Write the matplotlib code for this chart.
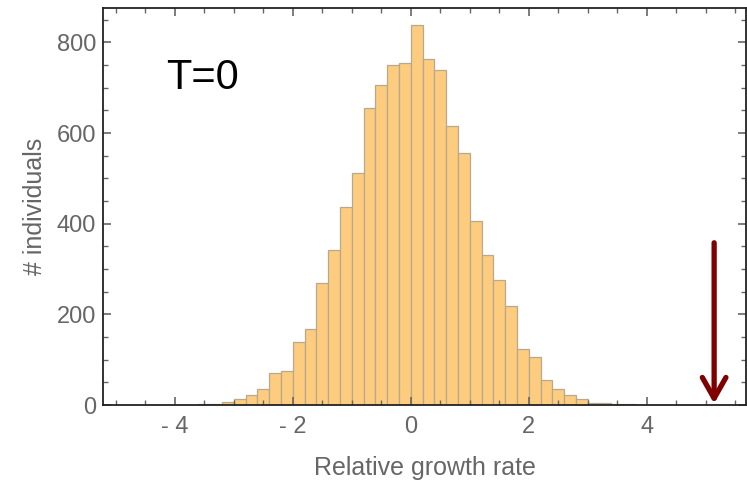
import matplotlib.pyplot as plt
from matplotlib.patches import FancyArrowPatch
from matplotlib.ticker import MultipleLocator
import numpy as np

plt.rcParams['font.family'] = ['Liberation Sans', 'DejaVu Sans']

# histogram bins (left edges, width 0.2) and counts
bin_left = [-3.6, -3.4, -3.2, -3.0, -2.8, -2.6, -2.4, -2.2, -2.0, -1.8,
            -1.6, -1.4, -1.2, -1.0, -0.8, -0.6, -0.4, -0.2, 0.0, 0.2,
            0.4, 0.6, 0.8, 1.0, 1.2, 1.4, 1.6, 1.8, 2.0, 2.2,
            2.4, 2.6, 2.8, 3.0, 3.2, 3.4, 3.6, 5.2]
counts = [2, 3, 6, 13, 22, 36, 70, 74, 138, 168,
          270, 341, 436, 513, 656, 706, 750, 755, 838, 764,
          740, 615, 555, 406, 330, 276, 219, 124, 105, 55,
          36, 22, 14, 5, 5, 3, 2, 1]
bin_width = 0.2

x_ticks = [-4, -2, 0, 2, 4]
x_ticklabels = ['- 4', '- 2', '0', '2', '4']
y_ticks = [0, 200, 400, 600, 800]

marker_x = 5.14
marker_top = 358

gray = '#666666'

fig = plt.figure(figsize=(7.47, 4.86), dpi=100)
ax = fig.add_axes([103 / 747, 1 - 405 / 486, (746 - 103) / 747, (405 - 8) / 486])

ax.bar(bin_left, counts, width=bin_width, align='edge',
       facecolor='#fdcc7e', edgecolor='#b8a88e', linewidth=0.9)

ax.set_xlim(-5.215, 5.68)
ax.set_ylim(0, 876)

ax.set_xticks(x_ticks)
ax.set_xticklabels(x_ticklabels)
ax.set_yticks(y_ticks)
ax.xaxis.set_minor_locator(MultipleLocator(0.5))
ax.yaxis.set_minor_locator(MultipleLocator(50))

ax.tick_params(which='both', direction='in', top=True, right=True,
               color=gray, labelcolor=gray, labelsize=17)
ax.tick_params(which='major', length=6, width=1.2, pad=5)
ax.tick_params(axis='x', which='major', pad=8)
ax.tick_params(which='minor', length=3.5, width=1.0)
ax.tick_params(axis='y', which='both', labelright=False)
ax.tick_params(axis='x', which='both', labeltop=False)

for s in ax.spines.values():
    s.set_color('#222222')
    s.set_linewidth(1.3)

ax.set_xlabel('Relative growth rate', color=gray, fontsize=18, labelpad=13)
ax.set_ylabel('# individuals', color=gray, fontsize=18, labelpad=7)

ax.text(-4.15, 721, 'T=0', fontsize=30, color='black', ha='left', va='center')

arrow = FancyArrowPatch((marker_x, marker_top), (marker_x, 3),
                        arrowstyle='->,head_length=15,head_width=8.5',
                        mutation_scale=1, color='#7f0000', lw=3.8,
                        shrinkA=0, shrinkB=0, clip_on=False)
ax.add_patch(arrow)

fig.savefig('out.png', dpi=100)
